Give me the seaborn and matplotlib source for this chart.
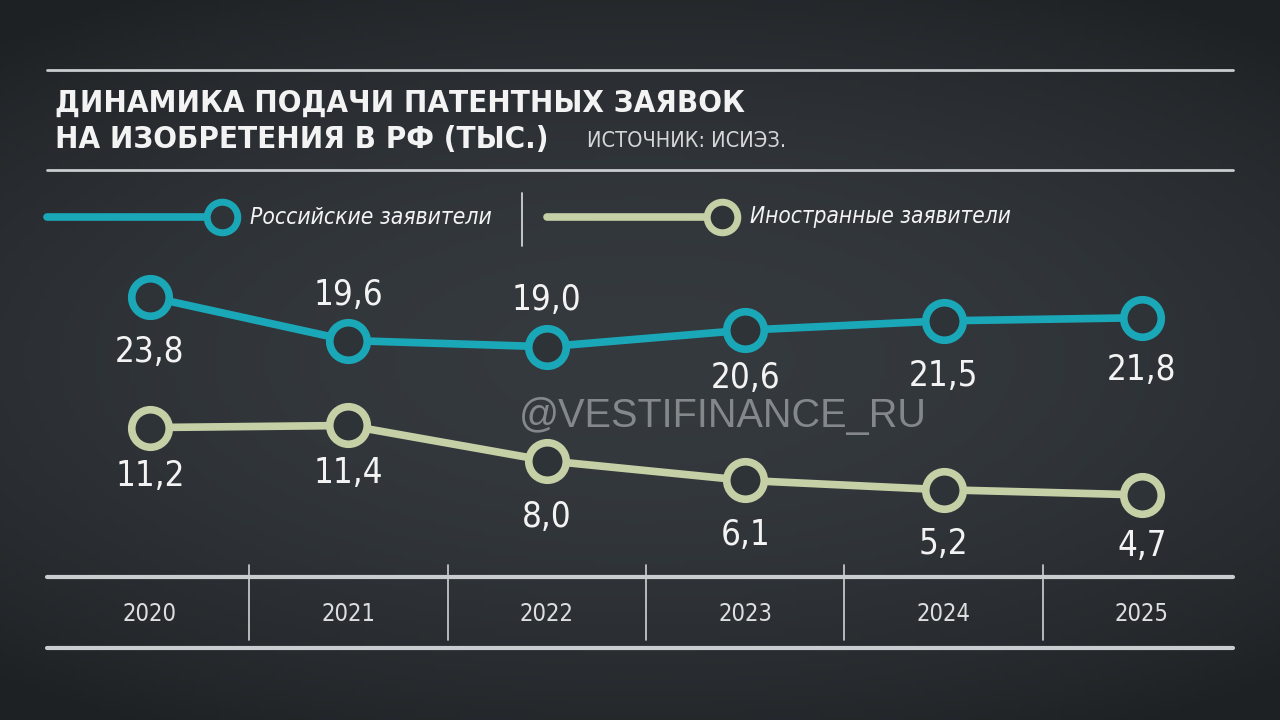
import numpy as np
import pandas as pd
import matplotlib
matplotlib.use("Agg")
import matplotlib.pyplot as plt
from matplotlib import font_manager
from matplotlib.lines import Line2D
import seaborn as sns

# data
years = ["2020", "2021", "2022", "2023", "2024", "2025"]
russian = [23.8, 19.6, 19.0, 20.6, 21.5, 21.8]
foreign = [11.2, 11.4, 8.0, 6.1, 5.2, 4.7]

series_names = ["Российские заявители", "Иностранные заявители"]
title_lines = ["ДИНАМИКА ПОДАЧИ ПАТЕНТНЫХ ЗАЯВОК", "НА ИЗОБРЕТЕНИЯ В РФ (ТЫС.)"]
source = "ИСТОЧНИК: ИСИЭЗ."
watermark = "@VESTIFINANCE_RU"

# label offsets from the marker, in pixels (+ above, - below)
ru_offsets = [-55, 46, 47, -48, -55, -52]
fo_offsets = [-48, -48, -56, -55, -54, -51]

TEAL = "#1aa8b8"
GREEN = "#c5d0a6"
BG = "#2e3337"
WHITE = "#f3f3f3"

sns.set_theme(style="white")
fonts = font_manager.fontManager.ttflist
names = {f.name for f in fonts}
if "Liberation Sans Narrow" in names:
    NARROW, STRETCH = "Liberation Sans Narrow", "normal"
else:
    NARROW = "DejaVu Sans"
    has_cond = any(f.name == "DejaVu Sans" and f.stretch == "condensed" for f in fonts)
    STRETCH = "condensed" if has_cond else "normal"
plt.rcParams["font.family"] = [NARROW, "DejaVu Sans"]
plt.rcParams["font.stretch"] = STRETCH

fig = plt.figure(figsize=(12.8, 7.2), dpi=100)
fig.patch.set_facecolor(BG)
renderer = fig.canvas.get_renderer()


def fit_width(txt, target_px):
    # scale font so the text spans the same width as in the reference
    w = txt.get_window_extent(renderer=renderer).width
    txt.set_fontsize(txt.get_fontsize() * target_px / w)
    return txt


# soft chalkboard vignette
bg_ax = fig.add_axes([0, 0, 1, 1], zorder=0)
gx, gy = np.meshgrid(np.linspace(-1, 1, 256), np.linspace(-1, 1, 144))
shade = 1 - 0.35 * (gx ** 2 * 0.6 + gy ** 2)
bg_ax.imshow(shade, cmap=sns.blend_palette(["#1e2124", "#373c41"], as_cmap=True),
             aspect="auto", extent=[0, 1, 0, 1], vmin=0.5, vmax=1.05)
bg_ax.axis("off")

ax = fig.add_axes([0, 0, 1, 1], zorder=1)
ax.patch.set_alpha(0)
ax.axis("off")

df = pd.DataFrame({"idx": range(len(years)), "ru": russian, "fo": foreign})
for col, color in [("ru", TEAL), ("fo", GREEN)]:
    sns.lineplot(data=df, x="idx", y=col, ax=ax, color=color, lw=5.5,
                 marker="o", markersize=27, markeredgewidth=5.5,
                 markerfacecolor=BG, markeredgecolor=color, zorder=3)

ax.set_xlim(-0.756, 5.696)
ax.set_ylim(-17.02, 52.46)

label_kw = dict(textcoords="offset points", ha="center", va="center",
                color=WHITE, fontsize=25)
for vals, offs in [(russian, ru_offsets), (foreign, fo_offsets)]:
    for i, (v, o) in enumerate(zip(vals, offs)):
        ax.annotate(f"{v:.1f}".replace(".", ","), (i, v), xytext=(0, o * 0.72),
                    **label_kw)

# watermark
fig.text(723 / 1280, 1 - 416 / 720, watermark, ha="center", va="center",
         fontsize=28.5, color="#a0a3a6", alpha=0.75, family="Liberation Sans",
         fontstretch="normal")

# year row
trans = ax.get_xaxis_transform()
for i, yr in enumerate(years):
    ax.text(i, 1 - 614 / 720, yr, transform=trans, ha="center", va="center",
            fontsize=17, color="#dcdedf")
for i in range(len(years) - 1):
    ax.plot([i + 0.5, i + 0.5], [1 - 565 / 720, 1 - 640 / 720], transform=trans,
            color="#cfd2d4", lw=1.2)

# horizontal rules
for ypx, lw in [(70, 2), (170, 2), (577, 3), (648, 3)]:
    fig.add_artist(Line2D([47 / 1280, 1233 / 1280], [1 - ypx / 720] * 2,
                          color="#c9cdd0", lw=lw))

# title
t1 = fig.text(55 / 1280, 1 - 103 / 720, title_lines[0], ha="left", va="center",
              fontsize=22, fontweight="heavy", color=WHITE)
fit_width(t1, 687)
t2 = fig.text(55 / 1280, 1 - 139 / 720, title_lines[1], ha="left", va="center",
              fontsize=t1.get_fontsize(), fontweight="heavy", color=WHITE)
src = fig.text(587 / 1280, 1 - 141 / 720, source, ha="left", va="center",
               fontsize=17, color="#d4d6d8")
fit_width(src, 200)

# legend
ly = 1 - 217 / 720
for x0, color, name, w in [(47, TEAL, series_names[0], 243),
                           (547, GREEN, series_names[1], 262)]:
    fig.add_artist(Line2D([x0 / 1280, (x0 + 172) / 1280], [ly, ly], color=color, lw=5.5))
    fig.add_artist(Line2D([(x0 + 175) / 1280], [ly], marker="o", markersize=22,
                          markeredgewidth=5, markerfacecolor=BG, markeredgecolor=color))
    lt = fig.text((x0 + 203) / 1280, ly, name, ha="left", va="center", fontsize=18,
                  style="italic", color=WHITE)
    fit_width(lt, w)
fig.add_artist(Line2D([522 / 1280] * 2, [1 - 193 / 720, 1 - 246 / 720],
                      color="#d0d3d5", lw=1.3))

fig.savefig("out.png", dpi=100, facecolor=BG)
